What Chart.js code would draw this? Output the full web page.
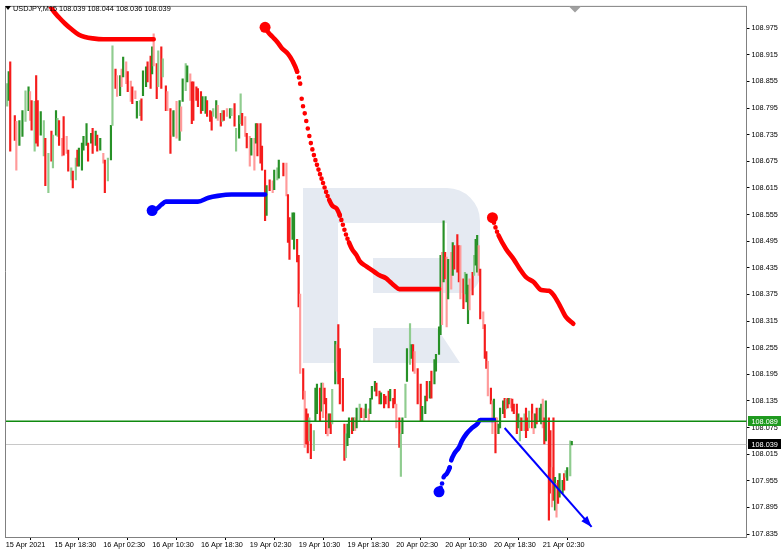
<!DOCTYPE html>
<html><head><meta charset="utf-8">
<script src="https://cdn.jsdelivr.net/npm/chart.js@4.4.1/dist/chart.umd.min.js"></script>
<style>html,body{margin:0;padding:0;background:#fff;}#wrap{width:782px;height:553px;}</style>
</head><body><div id="wrap"><canvas id="c" width="782" height="553"></canvas></div>
<script>
const symbolTitle = 'USDJPY,M15 108.039 108.044 108.036 108.039';
const timeLabels = ['15 Apr 2021','15 Apr 18:30','16 Apr 02:30','16 Apr 10:30','16 Apr 18:30','19 Apr 02:30','19 Apr 10:30','19 Apr 18:30','20 Apr 02:30','20 Apr 10:30','20 Apr 18:30','21 Apr 02:30'];
const timeLabelBars = [0,32,64,96,128,160,192,224,256,288,320,352];
const priceTicks = [108.975,108.915,108.855,108.795,108.735,108.675,108.615,108.555,108.495,108.435,108.375,108.315,108.255,108.195,108.135,108.075,108.015,107.955,107.895,107.835];

// M15 bars: bar number, high, low, direction (1 up / -1 down)
const barIndex = [1,2,3,6,7,9,11,13,15,16,17,19,20,21,23,25,26,28,30,31,33,34,35,37,38,40,41,43,44,46,47,48,50,51,53,54,56,57,59,60,62,64,65,67,69,70,72,73,75,76,77,79,80,82,83,85,86,88,89,90,92,93,95,96,97,99,100,102,103,105,106,108,109,110,112,114,115,116,118,119,121,122,123,125,126,128,129,131,132,134,135,136,138,139,141,142,143,145,147,148,150,151,153,154,155,157,158,160,161,163,164,165,167,168,170,171,173,175,176,178,179,182,184,185,186,188,189,191,192,193,195,196,197,198,199,200,202,203,204,206,207,208,209,210,211,212,213,214,216,217,218,219,221,222,223,224,225,227,228,229,230,232,233,235,236,238,239,240,242,243,245,246,248,249,251,252,254,255,256,258,259,260,262,263,265,266,267,268,270,272,273,275,276,278,279,281,282,284,285,286,287,288,289,290,292,293,294,296,297,298,300,301,302,303,304,306,307,308,309,310,311,313,314,315,316,318,319,320,321,322,323,324,326,327,328,329,330,331,332,333,335,336,337,338,340,341,342,343,345,346,347,348,350,351,352,353,354,356,357,358,359,360,361,362,363,365,366,367,368,370,371];
const barHigh = [108.850,108.877,108.899,108.778,108.765,108.767,108.789,108.834,108.843,108.832,
108.812,108.810,108.868,108.812,108.787,108.767,108.727,108.693,108.743,108.734,
108.789,108.772,108.767,108.727,108.776,108.731,108.700,108.660,108.653,108.682,
108.700,108.705,108.716,108.731,108.760,108.716,108.738,108.749,108.743,108.734,
108.727,108.693,108.678,108.682,108.756,108.935,108.883,108.868,108.868,108.883,
108.910,108.899,108.877,108.856,108.843,108.834,108.810,108.812,108.816,108.879,
108.888,108.899,108.912,108.933,108.962,108.895,108.924,108.933,108.906,108.845,
108.832,108.794,108.787,108.789,108.810,108.812,108.798,108.861,108.895,108.890,
108.872,108.854,108.854,108.843,108.839,108.832,108.821,108.821,108.812,108.789,
108.787,108.794,108.812,108.801,108.783,108.789,108.789,108.794,108.794,108.794,
108.805,108.749,108.778,108.827,108.783,108.776,108.738,108.731,108.727,108.727,
108.760,108.760,108.760,108.709,108.655,108.620,108.633,108.631,108.655,108.660,
108.678,108.671,108.671,108.600,108.548,108.559,108.559,108.499,108.463,108.376,
108.208,108.157,108.117,108.106,108.097,108.083,108.068,108.164,108.173,108.164,
108.175,108.175,108.164,108.141,108.106,108.106,108.106,108.161,108.269,108.262,
108.307,108.253,108.186,108.083,108.061,108.083,108.097,108.097,108.097,108.097,
108.119,108.128,108.119,108.117,108.128,108.117,108.141,108.168,108.179,108.175,
108.157,108.153,108.150,108.146,108.157,108.161,108.141,108.161,108.128,108.097,
108.061,108.097,108.173,108.253,108.309,108.262,108.262,108.246,108.208,108.173,
108.123,108.146,108.179,108.179,108.202,108.228,108.240,108.302,108.463,108.470,
108.541,108.470,108.459,108.454,108.470,108.492,108.485,108.510,108.485,108.485,
108.410,108.425,108.421,108.396,108.410,108.425,108.463,108.499,108.508,108.485,
108.432,108.336,108.307,108.246,108.224,108.164,108.135,108.139,108.097,108.097,
108.083,108.119,108.135,108.141,108.139,108.141,108.141,108.141,108.139,108.128,
108.128,108.106,108.097,108.097,108.106,108.119,108.097,108.112,108.128,108.106,
108.106,108.119,108.119,108.128,108.139,108.097,108.135,108.097,108.068,107.985,
108.097,107.963,107.949,107.956,107.971,107.956,107.971,107.978,107.985,108.045,
108.044];
const barLow = [108.799,108.812,108.698,108.722,108.655,108.711,108.731,108.765,108.789,108.767,
108.745,108.698,108.716,108.709,108.734,108.687,108.620,108.604,108.675,108.660,
108.734,108.731,108.711,108.687,108.689,108.693,108.653,108.633,108.615,108.633,
108.664,108.664,108.655,108.700,108.711,108.675,108.716,108.693,108.711,108.698,
108.700,108.671,108.604,108.631,108.678,108.756,108.839,108.821,108.823,108.843,
108.865,108.850,108.832,108.810,108.805,108.816,108.772,108.778,108.767,108.823,
108.843,108.854,108.839,108.872,108.890,108.816,108.843,108.839,108.865,108.789,
108.789,108.693,108.734,108.731,108.727,108.722,108.743,108.810,108.834,108.854,
108.812,108.760,108.767,108.812,108.798,108.783,108.789,108.783,108.776,108.765,
108.745,108.776,108.772,108.767,108.754,108.765,108.767,108.776,108.772,108.778,
108.754,108.698,108.727,108.760,108.756,108.731,108.705,108.664,108.689,108.655,
108.716,108.687,108.671,108.655,108.541,108.553,108.609,108.604,108.611,108.633,
108.637,108.642,108.597,108.492,108.454,108.499,108.477,108.448,108.347,108.197,
108.139,108.030,108.038,108.018,108.045,108.005,108.023,108.090,108.106,108.090,
108.112,108.097,108.128,108.061,108.056,108.074,108.061,108.083,108.173,108.202,
108.173,108.128,108.112,108.001,108.007,108.034,108.052,108.061,108.068,108.068,
108.074,108.090,108.097,108.090,108.097,108.090,108.106,108.139,108.157,108.146,
108.128,108.128,108.119,108.128,108.119,108.135,108.119,108.128,108.074,108.030,
107.965,108.061,108.097,108.179,108.217,108.231,108.202,108.197,108.128,108.090,
108.090,108.106,108.135,108.141,108.141,108.173,108.202,108.240,108.284,108.307,
108.403,108.410,108.302,108.365,108.387,108.418,108.432,108.425,108.403,108.365,
108.343,108.376,108.358,108.309,108.340,108.374,108.418,108.441,108.425,108.418,
108.320,108.298,108.231,108.208,108.146,108.128,108.061,108.090,108.018,108.061,
108.061,108.074,108.106,108.097,108.117,108.119,108.128,108.119,108.112,108.106,
108.061,108.074,108.045,108.068,108.068,108.052,108.068,108.074,108.074,108.061,
108.074,108.083,108.090,108.083,108.074,108.038,108.045,107.866,107.927,107.896,
107.911,107.889,107.873,107.904,107.918,107.927,107.934,107.963,107.956,107.966,
108.036];
const barDir = [1,1,-1,-1,-1,1,1,1,1,-1, -1,1,-1,-1,1,1,-1,1,-1,1, 1,1,-1,-1,-1,-1,-1,1,-1,1,
-1,1,1,1,1,-1,1,-1,1,-1, 1,-1,-1,1,1,1,-1,-1,1,-1, 1,-1,-1,-1,-1,-1,1,1,-1,1,
1,-1,-1,1,-1,-1,1,-1,1,-1, -1,-1,-1,1,-1,1,-1,1,1,1, -1,-1,-1,-1,-1,-1,1,1,-1,-1,
-1,1,1,-1,-1,1,-1,-1,1,1, -1,1,1,1,-1,-1,-1,-1,1,-1, 1,-1,-1,-1,-1,1,-1,-1,1,1,
1,-1,-1,-1,-1,1,1,-1,-1,-1, -1,-1,-1,-1,1,-1,1,1,1,-1, 1,-1,-1,-1,-1,1,-1,1,1,-1,
-1,-1,-1,-1,1,1,1,-1,1,-1, 1,1,-1,-1,1,-1,1,1,1,-1, -1,1,-1,-1,-1,1,-1,-1,-1,-1,
1,1,1,1,1,1,-1,-1,-1,-1, 1,1,-1,1,-1,1,1,1,1,-1, 1,-1,-1,1,-1,1,-1,-1,-1,-1,
-1,1,1,1,-1,-1,1,1,1,-1, -1,-1,-1,-1,-1,-1,-1,1,-1,-1, 1,1,1,-1,1,-1,1,-1,-1,-1,
-1,1,1,-1,1,-1,-1,1,-1,-1, 1,-1,1,1,-1,-1,1,-1,-1,-1, -1,1,-1,-1,1,1,-1,1,1,1,1];

// Indicator trails (bar number, price)
const redTrail1Bars = [28,31,35,39,43,48,52,57,64,97];
const redTrail1Vals = [109.033,109.015,108.999,108.985,108.973,108.960,108.955,108.952,108.950,108.950];
const redTrail2Bars = [170,172,175,178,181,185,188,191,193,194,196,198,200,202,204,206,208,210,212,214,217,219,221,223,225,227,230,232,236,239,242,245,249,252,255,258,284];
const redTrail2Vals = [108.977,108.966,108.955,108.944,108.930,108.917,108.901,108.877,108.850,108.816,108.783,108.749,108.716,108.689,108.667,108.646,108.626,108.606,108.588,108.575,108.568,108.553,108.532,108.510,108.492,108.477,108.463,108.450,108.439,108.432,108.425,108.418,108.412,108.403,108.394,108.387,108.387];
const redTrail3Bars = [319,321,323,328,333,337,341,346,351,356,359,363,367,372];
const redTrail3Vals = [108.548,108.526,108.508,108.477,108.454,108.432,108.414,108.403,108.385,108.383,108.374,108.351,108.325,108.309];
const blueTrail1Bars = [96,99,102,105,113,126,133,139,148,170];
const blueTrail1Vals = [108.564,108.568,108.577,108.584,108.584,108.584,108.593,108.597,108.600,108.600];
const blueTrail2Bars = [284,286,287,289,291,292,294,297,299,302,305,309,311,320];
const blueTrail2Vals = [107.930,107.949,107.963,107.971,107.985,108.001,108.016,108.030,108.045,108.061,108.072,108.083,108.092,108.092];
const arrowBars = [327,384];
const arrowVals = [108.074,107.851];
const levelPrice = 108.089;
const lastPrice = 108.039;

const FONT = '"Liberation Sans", Arial, sans-serif';
const n = Math.min(barIndex.length, barHigh.length, barLow.length, barDir.length);
const barData = [], barColors = [];
for (let i = 0; i < n; i++) {
  barData.push({x: barIndex[i], y: [barLow[i], barHigh[i]]});
  const light = (barIndex[i] % 3) === 1;
  barColors.push(barDir[i] > 0 ? (light ? '#8fcc8f' : '#279127') : (light ? '#ff9a9a' : '#f51c1c'));
}
const pts = (b, v) => b.map((x, i) => ({x, y: v[i]}));
const dotted = c => {
  const dx = Math.abs(c.p1.x - c.p0.x) || 0.01, dy = Math.abs(c.p1.y - c.p0.y);
  const s = dy / dx;
  if (s < 2.6) return undefined;
  return [0, Math.max(4.2, 1.534 * Math.sqrt(1 + s * s))];
};
function trail(bars, vals, color, dot) {
  return {type: 'line', data: pts(bars, vals), borderColor: color, backgroundColor: color,
    borderWidth: 4.6, borderCapStyle: 'round', borderJoinStyle: 'round',
    cubicInterpolationMode: 'monotone', order: 1,
    pointRadius: c => (dot && c.dataIndex === 0) ? 5.5 : 0, pointBorderWidth: 0,
    pointBackgroundColor: color, segment: {borderDash: dotted}};
}

const deco = {
  id: 'deco',
  beforeDatasetsDraw(chart) {
    const {ctx, chartArea: a, scales: {y}} = chart;
    ctx.save();
    ctx.beginPath(); ctx.rect(a.left, a.top, a.right - a.left, a.bottom - a.top); ctx.clip();
    ctx.fillStyle = '#e5eaf2';
    ctx.fillRect(303, 188, 35, 175);
    ctx.beginPath();
    ctx.moveTo(303, 188); ctx.lineTo(447, 188);
    ctx.arcTo(480, 188, 480, 223, 33);
    ctx.lineTo(480, 275); ctx.arcTo(480, 293, 462, 293, 18);
    ctx.lineTo(373, 293); ctx.lineTo(373, 258); ctx.lineTo(447, 258); ctx.lineTo(447, 223);
    ctx.lineTo(303, 223); ctx.closePath(); ctx.fill();
    ctx.beginPath();
    ctx.moveTo(373, 328); ctx.lineTo(437, 328); ctx.lineTo(460, 363); ctx.lineTo(373, 363); ctx.closePath(); ctx.fill();
    const yl = Math.round(y.getPixelForValue(lastPrice)) + 0.5;
    ctx.strokeStyle = '#c8c8c8'; ctx.lineWidth = 1;
    ctx.beginPath(); ctx.moveTo(a.left, yl); ctx.lineTo(a.right, yl); ctx.stroke();
    ctx.restore();
  },
  afterDatasetsDraw(chart) {
    const {ctx, chartArea: a, scales: {x, y}} = chart;
    ctx.save();
    const yg = y.getPixelForValue(levelPrice);
    ctx.strokeStyle = '#0f8a0f'; ctx.lineWidth = 1.6;
    ctx.beginPath(); ctx.moveTo(a.left, yg); ctx.lineTo(a.right, yg); ctx.stroke();
    const x0 = x.getPixelForValue(arrowBars[0]), y0 = y.getPixelForValue(arrowVals[0]);
    const x1 = x.getPixelForValue(arrowBars[1]), y1 = y.getPixelForValue(arrowVals[1]);
    const ang = Math.atan2(y1 - y0, x1 - x0);
    ctx.fillStyle = '#0000ff';
    ctx.beginPath();
    ctx.moveTo(x1, y1);
    ctx.lineTo(x1 - 11 * Math.cos(ang) + 4 * Math.sin(ang), y1 - 11 * Math.sin(ang) - 4 * Math.cos(ang));
    ctx.lineTo(x1 - 11 * Math.cos(ang) - 4 * Math.sin(ang), y1 - 11 * Math.sin(ang) + 4 * Math.cos(ang));
    ctx.closePath(); ctx.fill();
    ctx.restore();
  },
  afterDraw(chart) {
    const {ctx, chartArea: a, scales: {y}} = chart;
    ctx.save();
    ctx.strokeStyle = '#808080'; ctx.lineWidth = 1;
    ctx.beginPath(); ctx.moveTo(a.left, a.bottom); ctx.lineTo(a.left, a.top); ctx.lineTo(a.right, a.top); ctx.stroke();
    ctx.font = '7.3px ' + FONT; ctx.textBaseline = 'middle'; ctx.textAlign = 'left';
    const box = (v, bg) => {
      const py = Math.round(y.getPixelForValue(v));
      ctx.fillStyle = bg; ctx.fillRect(a.right + 1.5, py - 5, 33, 10);
      ctx.fillStyle = '#ffffff'; ctx.fillText(v.toFixed(3), a.right + 5, py + 0.5);
    };
    box(levelPrice, '#1f9a1f');
    box(lastPrice, '#000000');
    ctx.fillStyle = '#000';
    ctx.beginPath(); ctx.moveTo(5, 6); ctx.lineTo(11, 6); ctx.lineTo(8, 10); ctx.closePath(); ctx.fill();
    ctx.textBaseline = 'alphabetic';
    ctx.fillText(symbolTitle, 13, 10.5);
    ctx.fillStyle = '#a0a0a0';
    ctx.beginPath(); ctx.moveTo(569, a.top); ctx.lineTo(581, a.top); ctx.lineTo(575, a.top + 6); ctx.closePath(); ctx.fill();
    ctx.restore();
  }
};

Chart.defaults.font.family = FONT;
new Chart(document.getElementById('c'), {
  type: 'bar',
  data: {datasets: [
    {type: 'line', data: pts(arrowBars, arrowVals), borderColor: '#0000ff', borderWidth: 2, pointRadius: 0, order: 0},
    trail(redTrail1Bars, redTrail1Vals, '#ff0000', false),
    trail(redTrail2Bars, redTrail2Vals, '#ff0000', true),
    trail(redTrail3Bars, redTrail3Vals, '#ff0000', true),
    trail(blueTrail1Bars, blueTrail1Vals, '#0000ff', true),
    trail(blueTrail2Bars, blueTrail2Vals, '#0000ff', true),
    {type: 'bar', data: barData, backgroundColor: barColors, barThickness: 1.5, minBarLength: 1, grouped: false, borderWidth: 0, order: 5}
  ]},
  options: {
    responsive: false, animation: false, devicePixelRatio: 1,
    layout: {padding: {top: 2, left: 1.5, right: 0, bottom: 0}},
    plugins: {legend: {display: false}, tooltip: {enabled: false}},
    scales: {
      x: {type: 'linear', min: -0.1, max: 485.5, offset: false,
        afterBuildTicks: s => { s.ticks = timeLabelBars.map(v => ({value: v})); },
        afterFit: s => { s.height = 16; },
        ticks: {autoSkip: false, maxRotation: 0, minRotation: 0, align: 'start', padding: 1, color: '#000',
          font: {size: 7.3}, callback: (v, i) => timeLabels[i]},
        grid: {drawOnChartArea: false, tickLength: 3, color: '#000'},
        border: {display: true, color: '#808080'}
      },
      y: {position: 'right', min: 107.8283, max: 109.0241,
        afterBuildTicks: s => { s.ticks = priceTicks.map(v => ({value: v})); },
        afterFit: s => { s.width = 35.5; },
        ticks: {padding: 2, color: '#000', font: {size: 7.3}, callback: v => Number(v).toFixed(3)},
        grid: {drawOnChartArea: false, tickLength: 3, color: '#000'},
        border: {display: true, color: '#808080'}
      }
    }
  },
  plugins: [deco]
});
</script></body></html>
